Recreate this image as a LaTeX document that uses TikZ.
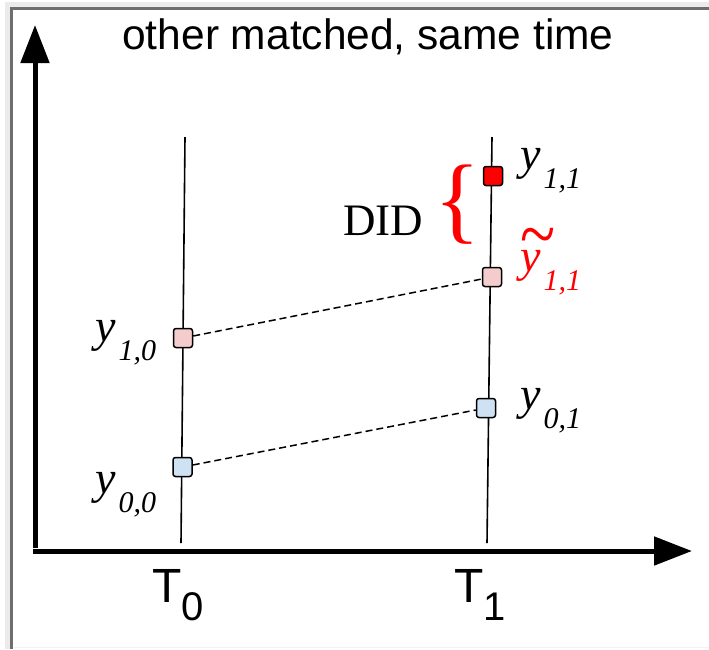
\documentclass[tikz,border=0pt]{standalone}
\usepackage{fontspec}
\setmainfont{Liberation Serif}
\newfontfamily\arial{Liberation Sans}
\usetikzlibrary{arrows.meta}

% outcome label y_{a,b}, italic with a large lowered index
\newcommand{\ylab}[1]{\itshape y\kern3pt\raisebox{-19pt}{\fontsize{30}{32}\selectfont #1}}
% counterfactual label with tilde above
\newcommand{\ytil}[1]{\itshape\rlap{\raisebox{12pt}{\upshape\fontsize{54}{56}\selectfont\scalebox{1.2}[1.4]{\textasciitilde}}}y\kern3pt\raisebox{-19pt}{\fontsize{30}{32}\selectfont #1}}

\begin{document}
\begin{tikzpicture}[x=1pt, y=-1pt,
    every node/.style={inner sep=0pt},
    obs/.style={draw, line width=1.5pt, rounded corners=2.5pt, minimum size=19pt},
    lab/.style={anchor=base west, font=\fontsize{46}{50}\selectfont},
    axis/.style={line width=5pt, -{Triangle[length=38pt, width=28pt]}},
    link/.style={line width=1.5pt, dash pattern=on 7pt off 4pt}]
  \definecolor{treat}{HTML}{FF0000}
  \definecolor{cf}{HTML}{F4CCCC}
  \definecolor{ctrl}{HTML}{CFE2F3}
  \colorlet{frame}{black!57}
  \useasboundingbox (0,0) rectangle (709,649);
  % frame
  \draw[black!8, line width=5pt] (7,649) -- (7,4) -- (709,4);
  \draw[black!5, line width=1pt] (14,647) -- (709,647);
  \draw[frame, line width=3pt] (11.5,649) -- (11.5,8.5) -- (709,8.5);
  % axes
  \coordinate (ybot) at (35,548);
  \coordinate (ytop) at (35,25);
  \coordinate (xleft) at (33,551);
  \coordinate (xright) at (692,551);
  \draw[axis] (ybot) -- (ytop);
  \draw[axis] (xleft) -- (xright);
  \node[anchor=base, font=\arial\fontsize{42.5}{46}\selectfont] (title) at (368,49) {other matched, same time};
  % time lines
  \coordinate (t0top) at (185,137);
  \coordinate (t0bot) at (181,543);
  \coordinate (t1top) at (492,137);
  \coordinate (t1bot) at (487,543);
  \draw[line width=1.6pt] (t0top) -- (t0bot);
  \draw[line width=1.6pt] (t1top) -- (t1bot);
  \node[anchor=base west, font=\arial\fontsize{48}{52}\selectfont] (T0) at (152,602) {T\raisebox{-18pt}{\fontsize{40}{44}\selectfont 0}};
  \node[anchor=base west, font=\arial\fontsize{48}{52}\selectfont] (T1) at (454,602) {T\raisebox{-18pt}{\fontsize{40}{44}\selectfont 1}};
  % observations
  \node[obs, fill=cf] (y10) at (183,338) {};
  \node[obs, fill=ctrl] (y00) at (182.5,467) {};
  \node[obs, fill=ctrl] (y01) at (486,408) {};
  \node[obs, fill=cf] (y11cf) at (492,277) {};
  \node[obs, fill=treat] (y11) at (493,176) {};
  \draw[link] (y10) -- (y11cf);
  \draw[link] (y00) -- (y01);
  % labels
  \node[lab] (l10) at (95,341) {\ylab{1,0}};
  \node[lab] (l00) at (95,493) {\ylab{0,0}};
  \node[lab] (l01) at (520,409) {\ylab{0,1}};
  \node[lab] (l11) at (520,169) {\ylab{1,1}};
  \node[lab, text=red] (l11cf) at (520,271) {\ytil{1,1}};
  \node[anchor=base west, font=\fontsize{45}{48}\selectfont] (did) at (343,235) {DID};
  \node[text=red, font=\fontsize{96}{100}\selectfont] (brace) at (458,205) {\{};
\end{tikzpicture}
\end{document}
